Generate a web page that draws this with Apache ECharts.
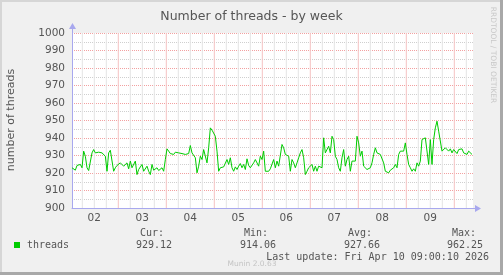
<!DOCTYPE html>
<html><head><meta charset="utf-8">
<script src="https://cdn.jsdelivr.net/npm/echarts@6/dist/echarts.min.js"></script>
<style>html,body{margin:0;padding:0;background:#f0f0f0}#c{width:503px;height:275px}</style>
</head><body><div id="c"></div>
<script>
const chartTitle = 'Number of threads - by week';
const yAxisName = 'number of threads';
const seriesName = 'threads';
const dayLabels = ['02','03','04','05','06','07','08','09'];
const dayLabelHours = [12,36,60,84,108,132,156,180];
const dayLineHours = [24,48,72,96,120,144,168,192];
const sixHourLineHours = [6,12,18,30,36,42,54,60,66,78,84,90,102,108,114,126,132,138,150,156,162,174,180,186,198];
const statLabels = ['Cur:','Min:','Avg:','Max:'];
const statValues = ['929.12','914.06','927.66','962.25'];
const lastUpdate = 'Last update: Fri Apr 10 09:00:10 2026';
const startHour = 0.85;      // hours after Apr 02 00:00 of the first sample
const stepHour = 5/6;        // sample spacing in hours
const threads = [
923.0,923.9,921.6,924.3,923.5,924.9,923.0,932.5,929.6,923.0,921.4,922.4,931.5,933.4,931.5,932.5,931.9,932.3,931.5,931.9,
929.6,921.0,931.5,933.0,932.5,921.0,923.0,924.3,923.5,925.8,926.8,923.9,923.5,925.8,922.4,926.8,923.0,922.0,926.8,919.1,
922.0,923.0,924.9,921.0,922.0,923.9,921.0,919.1,924.9,921.6,921.0,923.0,921.4,920.9,923.0,921.0,927.7,933.8,932.5,931.1,
931.5,930.6,931.9,931.1,931.5,931.9,931.1,931.5,930.6,929.6,931.1,935.7,931.5,930.6,928.7,920.1,923.9,929.6,927.7,933.4,
932.5,925.8,934.4,945.8,944.5,945.2,941.0,932.5,921.0,923.0,922.0,923.5,922.4,927.7,924.9,928.7,923.0,921.0,923.5,922.0,
923.9,925.4,923.0,924.9,922.0,928.1,924.3,923.0,922.0,925.8,927.7,926.8,923.9,929.6,927.7,932.5,921.0,922.0,921.0,922.4,
922.0,
927.7,923.0,926.8,923.9,923.0,936.3,934.4,930.6,930.6,929.6,921.0,927.7,925.8,923.0,925.8,928.7,931.5,933.4,928.7,919.1,
921.0,923.0,922.0,924.9,921.0,923.9,921.0,923.9,924.9,923.0,940.1,931.5,931.5,935.3,931.5,941.0,939.1,929.6,927.7,923.0,
921.0,928.7,933.4,923.9,927.7,929.6,921.0,926.8,925.8,926.8,941.0,937.2,929.6,932.5,923.9,923.0,922.0,921.0,923.0,925.8,
930.6,934.4,931.5,931.5,930.6,931.5,925.8,921.0,922.0,920.1,921.6,921.0,923.0,924.9,923.0,930.6,932.5,931.5,932.5,937.2,
930.6,924.9,923.0,921.0,922.4,921.0,925.8,923.9,926.8,939.1,938.2,940.1,941.0,924.9,939.1,924.9,939.1,945.8,949.6,943.9,
943.0,932.5,933.4,934.4,933.4,932.5,933.8,931.5,933.4,932.5,931.1,933.4,932.5,933.8,931.5,932.5,930.6,932.5,931.5,930.6
];

const points = threads.map((v, i) => [startHour + i * stepHour, v]);
const gray = '#cfcfcf';
const red = '#f2a0a0';
const axisColor = '#a8a8ee';
const textColor = '#555555';

// vertical grid lines: one short two-point line series per grid hour
function vLines(hours, color) {
  return hours.map(h => ({
    type: 'line', silent: true, z: 2, animation: false, showSymbol: false, symbol: 'none',
    data: [[h, 900], [h, 1000]],
    lineStyle: {color: color, width: 1}
  }));
}

const chart = echarts.init(document.getElementById('c'), null, {renderer: 'canvas'});

const mono = 'DejaVu Sans Mono';
const graphics = [
  {type:'rect', shape:{x:0,y:0,width:503,height:2}, style:{fill:'#d6d6d6'}, silent:true},
  {type:'rect', shape:{x:0,y:0,width:2,height:275}, style:{fill:'#d6d6d6'}, silent:true},
  {type:'rect', shape:{x:500,y:0,width:3,height:275}, style:{fill:'#a8a8a8'}, silent:true},
  {type:'rect', shape:{x:0,y:272,width:503,height:3}, style:{fill:'#a8a8a8'}, silent:true},
  {type:'rect', shape:{x:72,y:27,width:1,height:6}, style:{fill:axisColor}, silent:true, z:10},
  {type:'polygon', shape:{points:[[72.5,23],[69,29],[76,29]]}, style:{fill:axisColor}, silent:true, z:10},
  {type:'rect', shape:{x:473,y:208,width:4,height:1}, style:{fill:axisColor}, silent:true, z:10},
  {type:'polygon', shape:{points:[[481,208.5],[475,205],[475,212]]}, style:{fill:axisColor}, silent:true, z:10},
  {type:'text', x:11, y:120, rotation:Math.PI/2, style:{text:yAxisName, fill:textColor, font:'11px "DejaVu Sans"', align:'center', verticalAlign:'middle'}, silent:true},
  {type:'text', x:493, y:55, rotation:-Math.PI/2, style:{text:'RRDTOOL / TOBI OETIKER', fill:'#c8c8c8', font:'7.5px "DejaVu Sans"', align:'center', verticalAlign:'middle'}, silent:true},
  {type:'rect', shape:{x:14,y:242,width:6,height:6}, style:{fill:'#00cc00'}, silent:true},
  {type:'text', x:27, y:245, style:{text:seriesName, fill:textColor, font:'10px "'+mono+'"', align:'left', verticalAlign:'middle'}, silent:true},
  {type:'text', x:489, y:257, style:{text:lastUpdate, fill:textColor, font:'10px "'+mono+'"', align:'right', verticalAlign:'middle'}, silent:true},
  {type:'text', x:252, y:264, style:{text:'Munin 2.0.63', fill:'#c4c4c4', font:'7.5px "DejaVu Sans"', align:'center', verticalAlign:'middle'}, silent:true}
];
const statLabelRight = [164, 268, 372, 476];
const statValueRight = [172, 276, 380, 483];
statLabels.forEach((s, i) => {
  graphics.push({type:'text', x:statLabelRight[i], y:233, style:{text:s, fill:textColor, font:'10px "'+mono+'"', align:'right', verticalAlign:'middle'}, silent:true});
  graphics.push({type:'text', x:statValueRight[i], y:245, style:{text:statValues[i], fill:textColor, font:'10px "'+mono+'"', align:'right', verticalAlign:'middle'}, silent:true});
});

chart.setOption({
  backgroundColor: '#f0f0f0',
  animation: false,
  title: {text: chartTitle, left: 'center', top: 5, textStyle: {color: textColor, fontFamily: 'DejaVu Sans', fontSize: 12.5, fontWeight: 'normal'}},
  grid: {left: 72, top: 33, width: 401, height: 175, show: true, backgroundColor: '#ffffff', borderWidth: 0},
  xAxis: {
    type: 'value', min: 0.85, max: 201.35,
    axisLine: {show: true, lineStyle: {color: axisColor, width: 1}},
    axisTick: {show: false},
    splitLine: {show: false},
    axisLabel: {customValues: dayLabelHours, color: textColor, fontFamily: 'DejaVu Sans', fontSize: 10.5, margin: 5,
      formatter: v => dayLabels[dayLabelHours.indexOf(Math.round(v))] || ''}
  },
  yAxis: {
    type: 'value', min: 900, max: 1000, interval: 10,
    axisLine: {show: true, lineStyle: {color: axisColor, width: 1}},
    axisTick: {show: false},
    axisLabel: {color: textColor, fontFamily: 'DejaVu Sans', fontSize: 10.5, margin: 7, formatter: v => String(v)},
    splitLine: {show: true, lineStyle: {color: red, type: [1,1], width: 1}},
    minorTick: {show: false, splitNumber: 2},
    minorSplitLine: {show: true, lineStyle: {color: gray, type: [1,1], width: 1}}
  },
  series: vLines(sixHourLineHours, '#e4e4e4').concat(vLines(dayLineHours, '#f6c2c2')).concat([
    {type: 'line', name: seriesName, data: points, z: 3, showSymbol: false, symbol: 'none',
     lineStyle: {color: '#00cc00', width: 1}, silent: true}
  ]),
  graphic: graphics
});
</script></body></html>
